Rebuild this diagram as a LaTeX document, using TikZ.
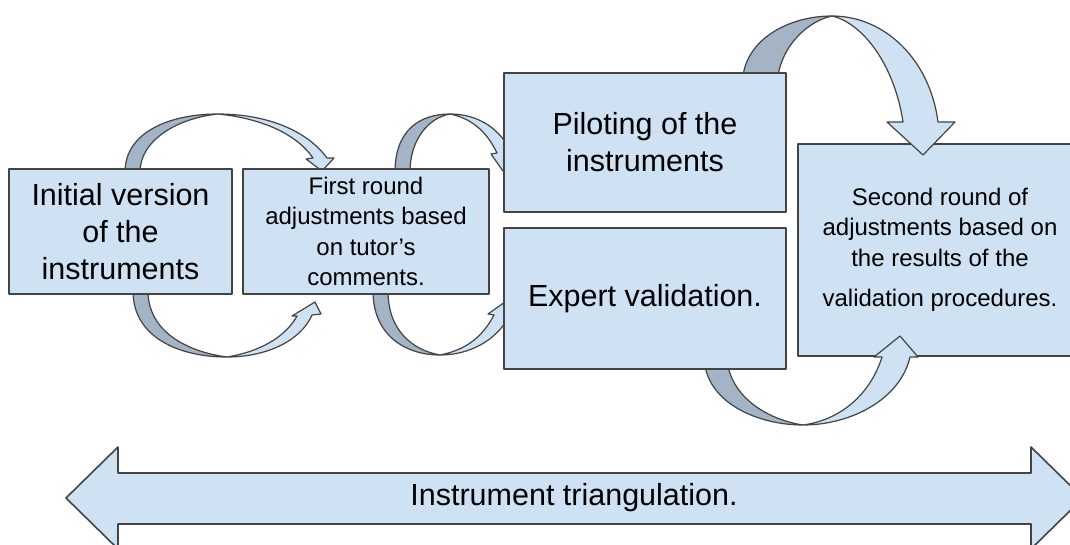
\documentclass[tikz,border=0pt]{standalone}
\usepackage{fontspec}
\setmainfont{Liberation Sans}
\definecolor{boxblue}{HTML}{CFE2F3}
\definecolor{bandgray}{HTML}{A2B4C6}
\definecolor{edge}{HTML}{434343}

\begin{document}
\begin{tikzpicture}[x=1pt, y=-1pt, line join=round,
  box/.style={rectangle, draw=edge, fill=boxblue, line width=1.6pt, inner sep=0pt, align=center},
  big/.style={font=\fontsize{30.5}{37}\selectfont},
  small/.style={font=\fontsize{24}{30.5}\selectfont},
  back/.style={draw=edge, fill=bandgray, line width=1.2pt},
  front/.style={draw=edge, fill=boxblue, line width=1.2pt}]

  \clip (0,0) rectangle (1070,545);

  % second round box, under the big arrows
  \node[box, small, minimum width=284pt, minimum height=212pt] (second) at (940,250)
    {Second round of\\adjustments based on\\the results of the\\[10pt]validation procedures.};

  % pilot -> second, over the top
  \draw[back] (743,76) .. controls (748,38) and (790,16) .. (832,16)
    .. controls (805,22) and (782,48) .. (778,76) -- cycle;
  \draw[front] (832,16) .. controls (885,16) and (930,60) .. (938,122)
    -- (955,122) -- (923,155) -- (887,122) -- (903,122)
    .. controls (895,68) and (865,24) .. (832,16) -- cycle;

  % expert -> second, under the bottom
  \draw[back] (705,366) .. controls (712,405) and (760,425) .. (803,425)
    .. controls (770,420) and (735,400) .. (728,366) -- cycle;
  \draw[front] (803,425) .. controls (850,425) and (900,400) .. (910,357)
    -- (918,357) -- (900,336) -- (874,357) -- (882,357)
    .. controls (870,395) and (840,420) .. (803,425) -- cycle;

  % init -> first, over the top
  \draw[back] (125,172) .. controls (125,132) and (170,114) .. (218,114)
    .. controls (178,118) and (140,140) .. (140,172) -- cycle;
  \draw[front] (218,114) .. controls (262,114) and (305,128) .. (327,158)
    -- (334,158) -- (322,171) -- (306,159) -- (313,158)
    .. controls (295,132) and (258,118) .. (218,114) -- cycle;

  % init -> first, under the bottom
  \draw[back] (133,291) .. controls (133,338) and (180,357) .. (227,357)
    .. controls (188,352) and (148,332) .. (148,291) -- cycle;
  \draw[front] (227,357) .. controls (265,357) and (300,342) .. (312,315)
    -- (321,314) -- (315,302) -- (292,316) -- (297,316)
    .. controls (285,338) and (258,352) .. (227,357) -- cycle;

  % first -> pilot, over the top
  \draw[back] (395,172) .. controls (395,130) and (420,114) .. (450,114)
    .. controls (428,118) and (410,140) .. (410,172) -- cycle;
  \draw[front] (450,114) .. controls (475,114) and (498,126) .. (510,150)
    -- (516,154) -- (503,171) -- (491,154) -- (497,153)
    .. controls (486,130) and (470,118) .. (450,114) -- cycle;

  % first -> expert, under the bottom
  \draw[back] (373,291) .. controls (373,335) and (405,355) .. (440,355)
    .. controls (412,350) and (388,330) .. (388,291) -- cycle;
  \draw[front] (440,355) .. controls (470,355) and (496,340) .. (508,318)
    -- (514,317) -- (505,302) -- (488,314) -- (494,315)
    .. controls (482,338) and (465,350) .. (440,355) -- cycle;

  % the four steps
  \node[box, big, minimum width=223pt, minimum height=125pt] (init) at (120.5,231.5)
    {Initial version\\of the\\instruments};
  \node[box, small, minimum width=246pt, minimum height=125pt] (first) at (366,231.5)
    {First round\\adjustments based\\on tutor’s\\comments.};
  \node[box, big, minimum width=282pt, minimum height=139pt] (pilot) at (645,142.5)
    {Piloting of the\\instruments};
  \node[box, big, minimum width=282pt, minimum height=141pt] (expert) at (645,298.5)
    {Expert validation.};

  % triangulation
  \draw[front, line width=1.6pt] (66,498) -- (118,447) -- (118,473) -- (1031,473)
    -- (1031,447) -- (1083,498) -- (1031,549) -- (1031,524) -- (118,524)
    -- (118,549) -- cycle;
  \node[big] (tri) at (574,498) {Instrument triangulation.};

\end{tikzpicture}
\end{document}
